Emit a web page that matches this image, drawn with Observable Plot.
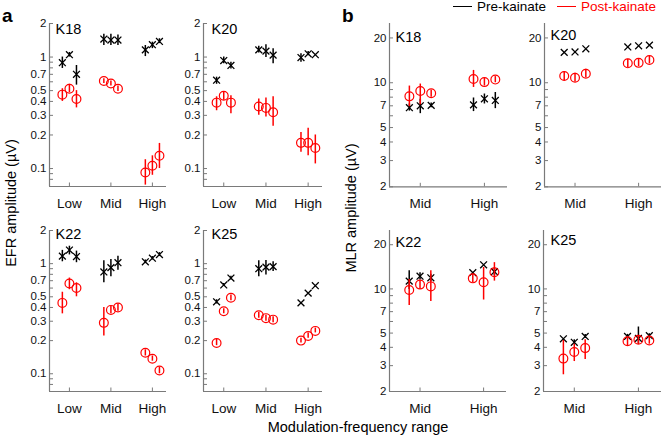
<!DOCTYPE html>
<html><head><meta charset="utf-8">
<script src="https://cdn.jsdelivr.net/npm/d3@7"></script>
<script src="https://cdn.jsdelivr.net/npm/@observablehq/plot@0.6"></script>
<style>
body{margin:0;background:#fff;font-family:"Liberation Sans",Arial,sans-serif;}
#fig{position:relative;width:661px;height:439px;overflow:hidden;background:#fff;}
.abs{position:absolute;white-space:nowrap;line-height:1;}
</style></head><body><div id="fig"></div>
<script>
// ---------- categories & ticks ----------
const efrRanges = ["Low", "Mid", "High"];
const mlrRanges = ["Mid", "High"];
const efrTicks = [0.1, 0.2, 0.3, 0.4, 0.5, 0.7, 1, 2];
const efrMinorTicks = [0.08, 0.09, 0.6, 0.8, 0.9];
const mlrTicks = [2, 3, 4, 5, 7, 10, 20];
const mlrMinorTicks = [6, 8, 9];

// ---------- (a) EFR amplitude, µV: 3 points per range (Low, Mid, High) ----------
const efrK18Pre = [0.89, 1.05, 0.70, 1.45, 1.42, 1.42, 1.16, 1.29, 1.38];
const efrK18PreErr = [[0.79,1.0],[1.0,1.1],[0.56,0.84],[1.27,1.6],[1.27,1.6],[1.27,1.58],[1.01,1.27],[1.19,1.36],[1.32,1.46]];
const efrK18Post = [0.46, 0.52, 0.42, 0.61, 0.58, 0.52, 0.092, 0.106, 0.13];
const efrK18PostErr = [[0.40,0.52],[0.48,0.57],[0.35,0.50],[0.58,0.64],[0.55,0.61],[0.49,0.55],[0.071,0.12],[0.087,0.13],[0.10,0.168]];

const efrK20Pre = [0.62, 0.93, 0.84, 1.16, 1.13, 1.04, 0.99, 1.07, 1.05];
const efrK20PreErr = [[0.57,0.66],[0.87,1.0],[0.78,0.9],[1.09,1.25],[0.99,1.29],[0.87,1.19],[0.9,1.07],[1.03,1.12],null];
const efrK20Post = [0.39, 0.45, 0.39, 0.36, 0.35, 0.32, 0.17, 0.17, 0.153];
const efrK20PostErr = [[0.33,0.44],[0.41,0.49],[0.31,0.45],[0.30,0.42],[0.29,0.43],[0.24,0.44],[0.14,0.21],[0.13,0.23],[0.11,0.2]];

const efrK22Pre = [1.17, 1.33, 1.16, 0.84, 0.92, 1.02, 1.04, 1.12, 1.21];
const efrK22PreErr = [[1.04,1.32],[1.2,1.44],[1.02,1.3],[0.67,1.06],[0.76,1.09],[0.87,1.17],[1.0,1.08],[1.08,1.16],[1.16,1.26]];
const efrK22Post = [0.44, 0.66, 0.60, 0.29, 0.38, 0.40, 0.155, 0.137, 0.107];
const efrK22PostErr = [[0.35,0.55],[0.58,0.74],[0.50,0.67],[0.22,0.40],[0.35,0.41],[0.37,0.43],[0.145,0.165],[0.13,0.145],[0.10,0.115]];

const efrK25Pre = [0.45, 0.64, 0.74, 0.90, 0.93, 0.94, 0.44, 0.54, 0.63];
const efrK25PreErr = [[0.43,0.47],[0.62,0.66],[0.71,0.77],[0.76,1.06],[0.79,1.07],[0.85,1.04],null,null,null];
const efrK25Post = [0.19, 0.37, 0.49, 0.34, 0.32, 0.31, 0.20, 0.22, 0.245];
const efrK25PostErr = [[0.18,0.205],[0.35,0.39],[0.46,0.52],[0.32,0.36],[0.30,0.34],[0.29,0.33],[0.19,0.21],[0.21,0.235],[0.235,0.26]];

// ---------- (b) MLR amplitude, µV: 3 points per range (Mid, High) ----------
const mlrK18Pre = [6.8, 7.0, 7.05, 7.1, 7.8, 7.6];
const mlrK18PreErr = [[6.45,7.2],[6.2,7.75],[6.8,7.3],[6.4,7.9],[7.2,8.4],[6.7,8.6]];
const mlrK18Post = [8.1, 8.8, 8.5, 10.6, 10.1, 10.5];
const mlrK18PostErr = [[6.9,9.5],[7.1,9.8],[8.0,8.9],[9.3,12.1],[9.5,10.7],[10.0,11.0]];

const mlrK20Pre = [16.0, 16.1, 16.9, 17.4, 17.7, 17.9];
const mlrK20PreErr = [null, null, null, null, null, null];
const mlrK20Post = [11.1, 10.8, 11.5, 13.5, 13.6, 14.2];
const mlrK20PostErr = [[10.3,11.9],[10.1,11.6],[10.8,12.3],[12.6,14.4],[12.8,14.5],[13.4,15.0]];

const mlrK22Pre = [11.3, 12.2, 11.9, 12.9, 14.6, 13.1];
const mlrK22PreErr = [[9.9,13.3],[11.5,12.9],[11.2,12.6],null,null,[12.3,13.9]];
const mlrK22Post = [9.84, 10.7, 10.4, 11.8, 11.1, 13.0];
const mlrK22PostErr = [[7.7,11.6],[9.9,11.4],[8.2,13.3],[11.0,12.6],[8.4,14.0],[11.3,15.1]];

const mlrK25Pre = [4.57, 4.33, 4.74, 4.74, 4.6, 4.8];
const mlrK25PreErr = [null,[4.2,4.5],[4.6,4.9],[4.6,4.9],[4.2,5.5],[4.65,4.95]];
const mlrK25Post = [3.35, 3.72, 3.95, 4.4, 4.5, 4.45];
const mlrK25PostErr = [[2.6,4.45],[3.2,4.2],[3.3,4.5],[4.1,4.7],[4.2,4.8],[4.2,4.7]];

// ---------- drawing ----------
const fig = document.getElementById("fig");
const FONT = '"Liberation Sans", Arial, sans-serif';
const AXIS = "#7a7a7a";
const PRE = "#000000", POST = "#ff0000";

function panel(c) {
  const mL = 35, mR = 2, mT = 12, mB = 30;
  const offs = [-0.17, 0, 0.17];
  const rows = (v, e) => v.map((y, i) => ({
    x: Math.floor(i / 3) + offs[i % 3], y,
    lo: e[i] ? e[i][0] : null, hi: e[i] ? e[i][1] : null
  }));
  const preRows = rows(c.pre, c.preErr), postRows = rows(c.post, c.postErr);
  const fw = c.fx1 - c.fx0, fh = c.fy1 - c.fy0;
  const catIdx = c.cats.map((_, i) => i);
  const svg = Plot.plot({
    width: fw + mL + mR, height: fh + mT + mB,
    marginLeft: mL, marginRight: mR, marginTop: mT, marginBottom: mB,
    style: {background: "none", fontFamily: FONT, overflow: "visible"},
    x: {type: "linear", domain: c.xDomain},
    y: {type: "log", domain: c.yDomain},
    marks: [
      Plot.ruleX([c.xDomain[0]], {stroke: AXIS, strokeWidth: 1.2}),
      Plot.ruleY([c.yDomain[0]], {stroke: AXIS, strokeWidth: 1.2}),
      Plot.tickY(c.ticks.concat(c.minor), {y: d => d, insetRight: fw - 4, stroke: AXIS}),
      Plot.tickX(catIdx, {x: d => d, insetTop: fh - 3.5, stroke: AXIS}),
      Plot.axisY({ticks: c.ticks, tickSize: 0, tickPadding: 3, tickFormat: d => String(d), fontSize: 11.5, fill: "#111", label: null}),
      Plot.axisX({ticks: catIdx, tickSize: 0, tickPadding: 12, tickFormat: i => c.cats[i], fontSize: 13.5, fill: "#111", label: null}),
      Plot.ruleX(preRows.filter(d => d.lo != null), {x: "x", y1: "lo", y2: "hi", stroke: PRE, strokeWidth: 1.5}),
      Plot.dot(preRows, {x: "x", y: "y", symbol: "times", r: 3.2, stroke: PRE, strokeWidth: 1.3}),
      Plot.ruleX(postRows.filter(d => d.lo != null), {x: "x", y1: "lo", y2: "hi", stroke: POST, strokeWidth: 1.5}),
      Plot.dot(postRows, {x: "x", y: "y", r: 4.4, stroke: POST, strokeWidth: 1.2}),
      Plot.text([c.name], {frameAnchor: "top-left", dx: c.ndx, dy: c.ndy, textAnchor: "start", lineAnchor: "top", fontSize: 14.5, fill: "#000"})
    ]
  });
  svg.style.position = "absolute";
  svg.style.left = (c.fx0 - mL) + "px";
  svg.style.top = (c.fy0 - mT) + "px";
  fig.appendChild(svg);
}

const efrX = [-0.48, 2.34], mlrX = [-0.48, 1.36];
const efrY = [0.069, 2], mlrY = [2, 25];
const efrCommon = {cats: efrRanges, xDomain: efrX, yDomain: efrY, ticks: efrTicks, minor: efrMinorTicks};
const mlrCommon = {cats: mlrRanges, xDomain: mlrX, yDomain: mlrY, ticks: mlrTicks, minor: mlrMinorTicks};

panel({...efrCommon, name: "K18", pre: efrK18Pre, preErr: efrK18PreErr, post: efrK18Post, postErr: efrK18PostErr, fx0: 49, fx1: 166, fy0: 23, fy1: 186, ndx: 6, ndy: 0});
panel({...efrCommon, name: "K20", pre: efrK20Pre, preErr: efrK20PreErr, post: efrK20Post, postErr: efrK20PostErr, fx0: 203, fx1: 322, fy0: 23, fy1: 186, ndx: 8, ndy: 0});
panel({...efrCommon, name: "K22", pre: efrK22Pre, preErr: efrK22PreErr, post: efrK22Post, postErr: efrK22PostErr, fx0: 49, fx1: 166, fy0: 230, fy1: 391, ndx: 6, ndy: -2});
panel({...efrCommon, name: "K25", pre: efrK25Pre, preErr: efrK25PreErr, post: efrK25Post, postErr: efrK25PostErr, fx0: 203, fx1: 322, fy0: 230, fy1: 391, ndx: 8, ndy: -2});

panel({...mlrCommon, name: "K18", pre: mlrK18Pre, preErr: mlrK18PreErr, post: mlrK18Post, postErr: mlrK18PostErr, fx0: 389, fx1: 507, fy0: 23.2, fy1: 186.5, ndx: 6, ndy: 8});
panel({...mlrCommon, name: "K20", pre: mlrK20Pre, preErr: mlrK20PreErr, post: mlrK20Post, postErr: mlrK20PostErr, fx0: 544, fx1: 661, fy0: 23.2, fy1: 186.5, ndx: 6, ndy: 6});
panel({...mlrCommon, name: "K22", pre: mlrK22Pre, preErr: mlrK22PreErr, post: mlrK22Post, postErr: mlrK22PostErr, fx0: 389, fx1: 506, fy0: 230, fy1: 391, ndx: 6, ndy: 6});
panel({...mlrCommon, name: "K25", pre: mlrK25Pre, preErr: mlrK25PreErr, post: mlrK25Post, postErr: mlrK25PostErr, fx0: 543, fx1: 661, fy0: 230, fy1: 391, ndx: 7, ndy: 4});

// ---------- labels & legend ----------
function label(text, css) {
  const d = document.createElement("div");
  d.className = "abs";
  d.textContent = text;
  Object.assign(d.style, css);
  fig.appendChild(d);
  return d;
}
label("a", {left: "2px", top: "6px", fontSize: "19px", fontWeight: "bold"});
label("b", {left: "342px", top: "6px", fontSize: "19px", fontWeight: "bold"});
label("EFR amplitude (µV)", {left: "11px", top: "203px", fontSize: "14.5px", transform: "translate(-50%,-50%) rotate(-90deg)"});
label("MLR amplitude (µV)", {left: "351px", top: "208px", fontSize: "14.5px", transform: "translate(-50%,-50%) rotate(-90deg)"});
label("Modulation-frequency range", {left: "358px", top: "420px", fontSize: "14.5px", transform: "translateX(-50%)"});

const legendItems = [
  {text: "Pre-kainate", color: PRE, x: 453},
  {text: "Post-kainate", color: POST, x: 557}
];
for (const it of legendItems) {
  const ln = document.createElement("div");
  Object.assign(ln.style, {position: "absolute", left: it.x + "px", top: "6px", width: "19px", height: "0", borderTop: "1.5px solid " + it.color});
  fig.appendChild(ln);
  label(it.text, {left: (it.x + 24) + "px", top: "0px", fontSize: "13.5px", color: it.color});
}
</script></body></html>
